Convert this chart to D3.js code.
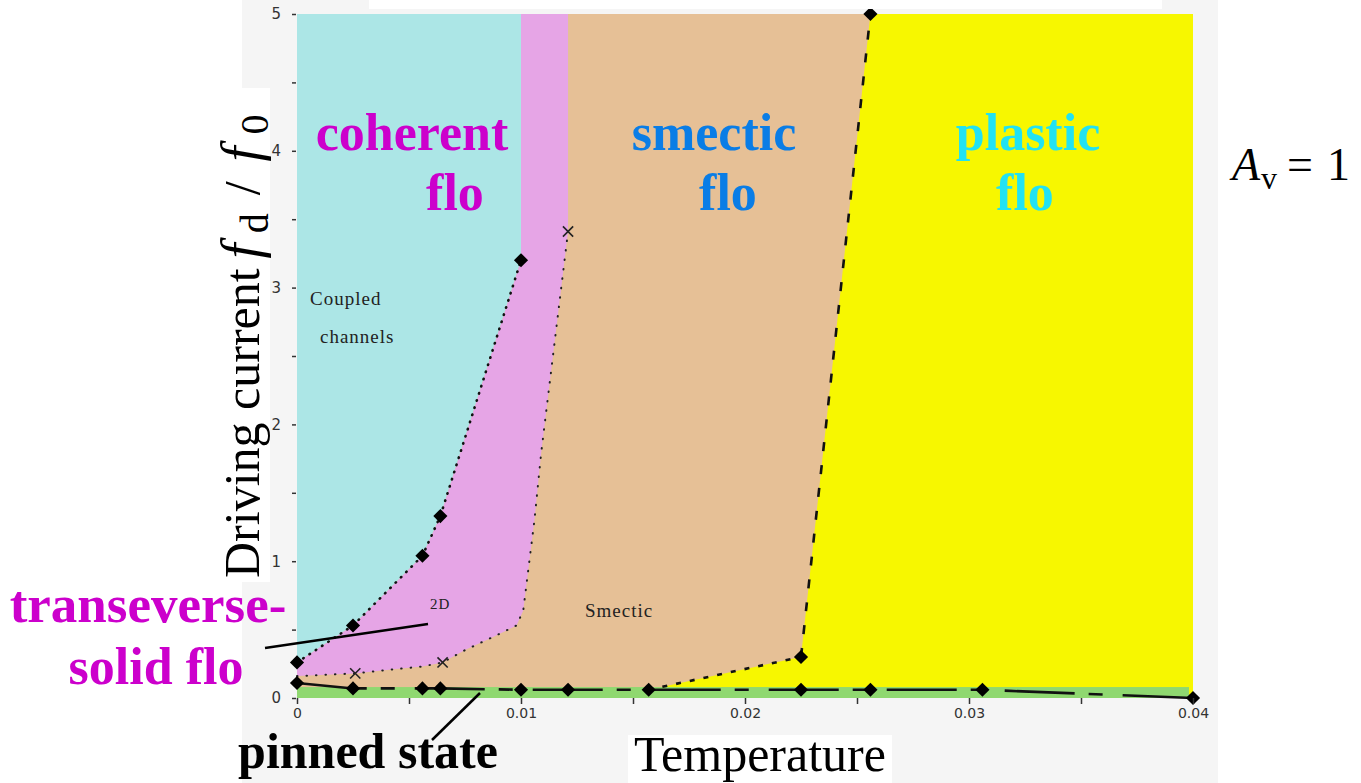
<!DOCTYPE html>
<html>
<head>
<meta charset="utf-8">
<script src="https://cdn.jsdelivr.net/npm/d3@7"></script>
<style>
  body { margin: 0; background: #fff; }
  svg { display: block; }
</style>
</head>
<body>
<div id="chart-area"></div>
<script>
// phase diagram: driving current vs temperature, A_v = 1

// coupled channels / transverse solid boundary (diamonds)
const coupledT = [0, 0.0025, 0.0056, 0.0064, 0.01]
const coupledF = [0.26, 0.53, 1.04, 1.33, 3.2]

// transverse solid / smectic boundary (dotted, x markers)
const solidT = [0, 0.0026, 0.0043, 0.0056, 0.0065, 0.0075, 0.0088, 0.0098, 0.0101, 0.0106, 0.0109, 0.0121]
const solidF = [0.16, 0.18, 0.21, 0.23, 0.26, 0.35, 0.45, 0.53, 0.64, 1.30, 1.79, 3.41]
const solidMarkT = [0.0026, 0.0065, 0.0121]
const solidMarkF = [0.18, 0.26, 3.41]

// smectic / plastic boundary
const smecticT = [0.0157, 0.0225, 0.0256]
const smecticF = [0.06, 0.30, 5.0]

// depinning line
const pinnedT = [0, 0.0025, 0.0056, 0.0064, 0.01, 0.0121, 0.0157, 0.0225, 0.0256, 0.0306, 0.04]
const pinnedF = [0.11, 0.07, 0.07, 0.07, 0.06, 0.06, 0.06, 0.06, 0.06, 0.06, 0.0]
const pinnedBand = 0.08

const xTicks = [0, 0.005, 0.01, 0.015, 0.02, 0.025, 0.03, 0.035, 0.04]
const xLabels = ["0", "", "0.01", "", "0.02", "", "0.03", "", "0.04"]
const yTicks = [0, 0.5, 1, 1.5, 2, 2.5, 3, 3.5, 4, 4.5, 5]
const yLabels = ["0", "", "1", "", "2", "", "3", "", "4", "", "5"]

const T_MAX = 0.04
const F_MAX = 5

const W = 1361, H = 783
const PLOT = { LEFT: 297, RIGHT: 1193, TOP: 14, BOTTOM: 698 }

const COL = {
  cyan: "#ace6e6", pink: "#e6a5e6", tan: "#e6c096",
  yellow: "#f7f700", green: "#8fd870", panel: "#f5f5f5"
}

const svg = d3.select("#chart-area").append("svg")
  .attr("width", W)
  .attr("height", H)

const x = d3.scaleLinear().domain([0, T_MAX]).range([PLOT.LEFT, PLOT.RIGHT])
const y = d3.scaleLinear().domain([0, F_MAX]).range([PLOT.BOTTOM, PLOT.TOP])

const zip = (a, b) => a.map((v, i) => [v, b[i]])
const poly = pts => "M" + pts.map(p => `${x(p[0])},${y(p[1])}`).join("L") + "Z"
const line = d3.line().x(d => x(d[0])).y(d => y(d[1]))

// gray panel behind the figure
svg.append("rect")
  .attr("x", 242).attr("y", 0)
  .attr("width", 1218 - 242).attr("height", H)
  .attr("fill", COL.panel)

// regions
const g = svg.append("g")

g.append("rect")
  .attr("x", x(0)).attr("y", y(F_MAX))
  .attr("width", x(T_MAX) - x(0)).attr("height", y(0) - y(F_MAX))
  .attr("fill", COL.tan)

const coupled = zip(coupledT, coupledF)
const solid = zip(solidT, solidF)
const smectic = zip(smecticT, smecticF)

// plastic flow
g.append("path")
  .attr("d", poly(smectic.concat([[T_MAX, F_MAX], [T_MAX, 0], [smecticT[0], 0]])))
  .attr("fill", COL.yellow)

// coupled channels
g.append("path")
  .attr("d", poly([[0, F_MAX], [coupledT[coupledT.length - 1], F_MAX]].concat(coupled.slice().reverse())))
  .attr("fill", COL.cyan)

// transverse solid
const topSolid = solidT[solidT.length - 1]
g.append("path")
  .attr("d", poly([[coupledT[coupledT.length - 1], F_MAX], [topSolid, F_MAX]]
    .concat(solid.slice().reverse(), coupled)))
  .attr("fill", COL.pink)

// pinned band
g.append("rect")
  .attr("x", x(0)).attr("y", y(pinnedBand))
  .attr("width", x(T_MAX) - x(0) - 4).attr("height", y(0) - y(pinnedBand))
  .attr("fill", COL.green)

// boundary lines
g.append("path")
  .attr("d", line(coupled))
  .attr("fill", "none").attr("stroke", "#111")
  .attr("stroke-width", 2.6).attr("stroke-linecap", "round")
  .attr("stroke-dasharray", "0.5,7")

g.append("path")
  .attr("d", line(solid))
  .attr("fill", "none").attr("stroke", "#222")
  .attr("stroke-width", 2).attr("stroke-linecap", "round")
  .attr("stroke-dasharray", "0.5,9")

g.append("path")
  .attr("d", line(smectic.slice(0, 2)))
  .attr("fill", "none").attr("stroke", "#111")
  .attr("stroke-width", 2.6)
  .attr("stroke-dasharray", "5,9")

g.append("path")
  .attr("d", line(smectic.slice(1)))
  .attr("fill", "none").attr("stroke", "#111")
  .attr("stroke-width", 2.6)
  .attr("stroke-dasharray", "9,14")

const pinned = zip(pinnedT, pinnedF)
g.append("path")
  .attr("d", line(pinned))
  .attr("fill", "none").attr("stroke", "#111")
  .attr("stroke-width", 2.6)
  .attr("stroke-dasharray", "70,14,14,20")

// markers
const diamond = d3.symbol().type(d3.symbolSquare).size(100)
const diamondPts = coupled.concat(smectic.slice(1), pinned)
g.selectAll(".dia")
  .data(diamondPts)
  .enter().append("path")
  .attr("class", "dia")
  .attr("d", diamond)
  .attr("transform", d => `translate(${x(d[0])},${y(d[1])}) rotate(45)`)
  .attr("fill", "#000")

const cross = d3.symbol().type(d3.symbolTimes).size(70)
g.selectAll(".cross")
  .data(zip(solidMarkT, solidMarkF))
  .enter().append("path")
  .attr("class", "cross")
  .attr("d", cross)
  .attr("transform", d => `translate(${x(d[0])},${y(d[1])})`)
  .attr("fill", "none").attr("stroke", "#222").attr("stroke-width", 1.6)

// axes
const xAxis = d3.axisBottom(x)
  .tickValues(xTicks)
  .tickSize(6)
  .tickFormat((d, i) => xLabels[i])
svg.append("g")
  .attr("transform", `translate(0, ${PLOT.BOTTOM})`)
  .call(xAxis)
  .call(a => a.select(".domain").remove())
  .call(a => a.selectAll("line").attr("stroke", "#333").attr("stroke-width", 1.5))
  .selectAll("text")
    .attr("y", 10)
    .attr("font-family", "DejaVu Sans")
    .attr("font-size", "14px")
    .attr("fill", "#333")

const yAxis = d3.axisLeft(y)
  .tickValues(yTicks)
  .tickSize(4)
  .tickFormat((d, i) => yLabels[i])
svg.append("g")
  .attr("transform", `translate(${PLOT.LEFT - 1}, 0)`)
  .call(yAxis)
  .call(a => a.select(".domain").remove())
  .call(a => a.selectAll("line").attr("stroke", "#333").attr("stroke-width", 1.5))
  .selectAll("text")
    .attr("x", -15)
    .attr("font-family", "DejaVu Sans")
    .attr("font-size", "15px")
    .attr("fill", "#333")

// small labels inside the plot
const small = svg.append("g")
  .attr("font-family", "Liberation Serif")
  .attr("font-size", "19px")
  .attr("fill", "#222")
  .attr("letter-spacing", "1")
small.append("text").attr("x", 310).attr("y", 305).text("Coupled")
small.append("text").attr("x", 320).attr("y", 343).text("channels")
small.append("text").attr("x", 585).attr("y", 617).text("Smectic")
small.append("text").attr("x", 430).attr("y", 609).attr("font-size", "15px").text("2D")

// white boxes that cover the panel under pasted text
svg.append("rect").attr("x", 369).attr("y", 0).attr("width", 793).attr("height", 9).attr("fill", "#fff")
svg.append("rect").attr("x", 212).attr("y", 88).attr("width", 58).attr("height", 494).attr("fill", "#fff")
svg.append("rect").attr("x", 628).attr("y", 735).attr("width", 264).attr("height", 48).attr("fill", "#fff")
svg.append("rect").attr("x", 1218).attr("y", 0).attr("width", 143).attr("height", H).attr("fill", "#fff")

// phase names
const big = svg.append("g")
  .attr("font-family", "Liberation Serif")
  .attr("font-weight", "bold")
  .attr("font-size", "52px")
  .attr("text-anchor", "middle")

const phases = [
  { name: "coherent", color: "#cc00cc", cx: 412 },
  { name: "smectic", color: "#0a7de6", cx: 714 },
  { name: "plastic", color: "#22e2f2", cx: 1028 }
]
phases.forEach(p => {
  big.append("text").attr("x", p.cx).attr("y", 150).attr("fill", p.color).text(p.name)
})
big.append("text").attr("x", 455).attr("y", 210).attr("fill", "#cc00cc").text("flo")
big.append("text").attr("x", 728).attr("y", 210).attr("fill", "#0a7de6").text("flo")
big.append("text").attr("x", 1025).attr("y", 210).attr("fill", "#22e2f2").text("flo")

big.append("text").attr("x", 148).attr("y", 622).attr("fill", "#cc00cc").attr("font-size", "53px").text("transeverse-")
big.append("text").attr("x", 156).attr("y", 684).attr("fill", "#cc00cc").text("solid flo")
big.append("text").attr("x", 368).attr("y", 768).attr("fill", "#000").attr("font-size", "50px").text("pinned state")

// pointer lines
svg.append("line").attr("x1", 265).attr("y1", 648).attr("x2", 428).attr("y2", 624)
  .attr("stroke", "#000").attr("stroke-width", 2.5)
svg.append("line").attr("x1", 432).attr("y1", 740).attr("x2", 480).attr("y2", 693)
  .attr("stroke", "#000").attr("stroke-width", 2.5)

// axis titles
svg.append("text")
  .attr("x", 634).attr("y", 771)
  .attr("font-family", "Liberation Serif")
  .attr("font-size", "50px")
  .text("Temperature")

const yl = svg.append("text")
  .attr("transform", "translate(259, 578) rotate(-90)")
  .attr("font-family", "Liberation Serif")
  .attr("font-size", "50px")
yl.append("tspan").text("Driving current")
yl.append("tspan").attr("font-style", "italic").attr("font-size", "54px").attr("dx", 10).text("f")
yl.append("tspan").attr("font-size", "40px").attr("dy", 9).attr("dx", 10).text("d")
yl.append("tspan").attr("dy", -9).attr("dx", 18).text("/")
yl.append("tspan").attr("font-style", "italic").attr("font-size", "54px").attr("dx", 20).text("f")
yl.append("tspan").attr("font-size", "40px").attr("dy", 9).attr("dx", 12).text("0")

const av = svg.append("text")
  .attr("x", 1232).attr("y", 180)
  .attr("font-family", "Liberation Serif")
  .attr("font-size", "46px")
av.append("tspan").attr("font-style", "italic").text("A")
av.append("tspan").attr("font-size", "32px").attr("dy", 9).attr("dx", 1).text("v")
av.append("tspan").attr("dy", -9).attr("dx", 10).text("=")
av.append("tspan").attr("dx", 14).text("1")
</script>
</body>
</html>
